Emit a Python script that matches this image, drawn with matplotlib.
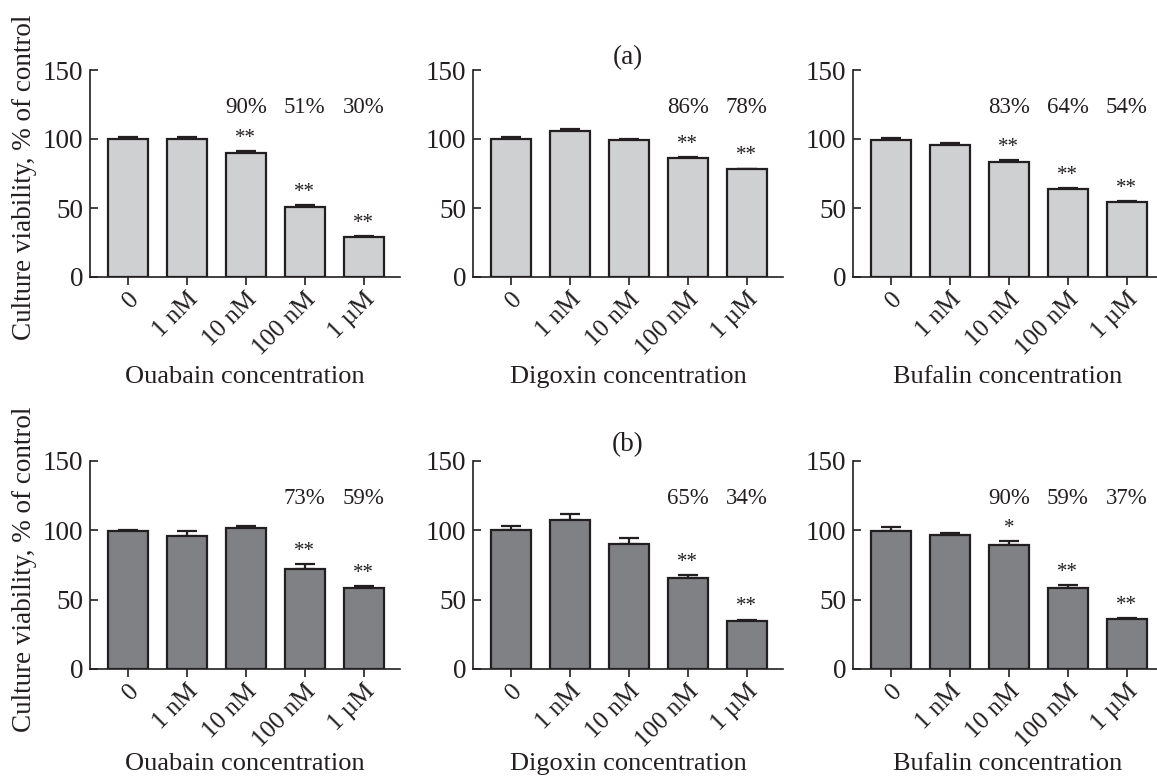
import numpy as np
import matplotlib
matplotlib.use("Agg")
from matplotlib import pyplot as plt

plt.rcParams['font.family'] = ['Liberation Serif', 'DejaVu Serif']

conc = ["0", "1 nM", "10 nM", "100 nM", "1 \u00b5M"]
drugs = ["Ouabain", "Digoxin", "Bufalin"]

# row (a)
oua_a = [100, 100, 90, 51, 29]
oua_a_err = [1.2, 1.2, 1.0, 1.2, 0.6]
dig_a = [100, 106, 99, 86, 78]
dig_a_err = [1.2, 1.5, 1.2, 1.0, 0.6]
buf_a = [99.5, 95.5, 83, 63.5, 54]
buf_a_err = [1.5, 1.5, 1.5, 1.0, 1.2]

# row (b)
oua_b = [99.5, 96, 102, 72, 58.5]
oua_b_err = [1.0, 3.3, 1.0, 3.6, 1.0]
dig_b = [100, 107.5, 90, 65.5, 34.5]
dig_b_err = [3.0, 4.2, 4.2, 2.3, 1.0]
buf_b = [99.7, 96.6, 89.4, 58.4, 36]
buf_b_err = [2.5, 1.6, 3.0, 2.2, 0.8]

stars_a = [["", "", "**", "**", "**"], ["", "", "", "**", "**"], ["", "", "**", "**", "**"]]
pct_a = [["", "", "90%", "51%", "30%"], ["", "", "", "86%", "78%"], ["", "", "83%", "64%", "54%"]]
stars_b = [["", "", "", "**", "**"], ["", "", "", "**", "**"], ["", "", "*", "**", "**"]]
pct_b = [["", "", "", "73%", "59%"], ["", "", "", "65%", "34%"], ["", "", "90%", "59%", "37%"]]

rows = [
    ([oua_a, dig_a, buf_a], [oua_a_err, dig_a_err, buf_a_err], stars_a, pct_a, "#cfd0d2"),
    ([oua_b, dig_b, buf_b], [oua_b_err, dig_b_err, buf_b_err], stars_b, pct_b, "#808185"),
]

W, H = 1157, 778
fig = plt.figure(figsize=(W / 100, H / 100), dpi=100)

ink = "#231f20"
lefts = [90, 473, 853]
row_y = [(277, 70), (669, 461)]  # (y of 0, y of 150) in pixels
xlab_y = [-0.485, -0.455]
x = np.arange(5)

for r, (vals, errs, stars, pcts, color) in enumerate(rows):
    y0, y150 = row_y[r]
    for c in range(3):
        ax = fig.add_axes([lefts[c] / W, 1 - y0 / H, 310 / W, (y0 - y150) / H])
        v = np.array(vals[c])
        e = np.array(errs[c])
        ax.bar(x, v, width=0.68, color=color, edgecolor=ink, linewidth=1.6, zorder=2)
        ax.errorbar(x, v, yerr=[np.zeros(5), e], fmt='none', ecolor=ink,
                    elinewidth=1.6, capsize=7, capthick=1.6, zorder=1)
        for i in range(5):
            if stars[c][i]:
                ax.text(x[i], v[i] + e[i] + 6, stars[c][i], ha='center', va='baseline',
                        fontsize=15, color=ink)
            if pcts[c][i]:
                ax.text(x[i], 123, pcts[c][i], ha='center', va='center',
                        fontsize=16.5, color=ink)
        ax.set_xlim(-0.65, 4.62)
        ax.set_ylim(0, 150)
        ax.set_yticks([0, 50, 100, 150])
        ax.set_xticks(x)
        ax.set_xticklabels(conc, rotation=45, ha='right', va='top', rotation_mode='anchor')
        ax.tick_params(axis='x', direction='out', length=6, width=1.2,
                       labelsize=18, colors=ink, pad=2)
        ax.tick_params(axis='y', direction='in', length=6, width=1.2,
                       labelsize=19.5, colors=ink, pad=5)
        for s in ['top', 'right']:
            ax.spines[s].set_visible(False)
        for s in ['left', 'bottom']:
            ax.spines[s].set_linewidth(1.2)
            ax.spines[s].set_color(ink)
        ax.set_xlabel(drugs[c] + " concentration", fontsize=19, color=ink, va='center')
        ax.xaxis.set_label_coords(0.5, xlab_y[r])
        if c == 0:
            ax.set_ylabel("Culture viability, % of control", fontsize=19.5, color=ink, va='center')
            ax.yaxis.set_label_coords(-0.21, 0.48)

fig.text(628 / W, 1 - 58 / H, "(a)", ha='center', va='center', fontsize=19.5, color=ink)
fig.text(628 / W, 1 - 445 / H, "(b)", ha='center', va='center', fontsize=19.5, color=ink)

fig.savefig("out.png", dpi=100)
